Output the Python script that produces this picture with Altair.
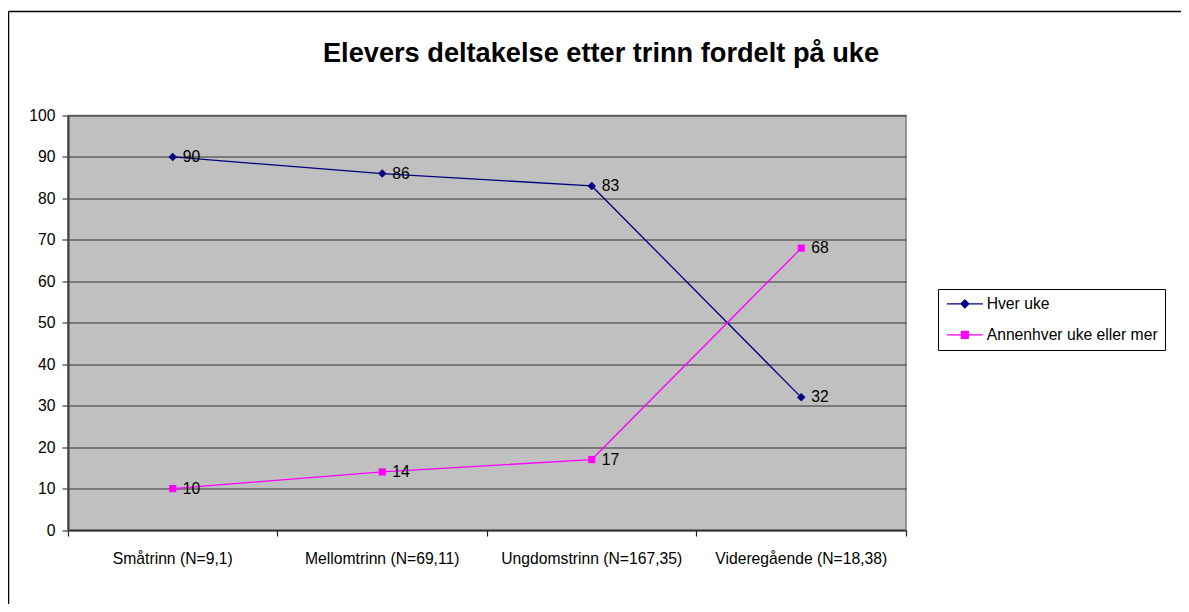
import altair as alt
import pandas as pd

categories = ["Småtrinn (N=9,1)", "Mellomtrinn (N=69,11)", "Ungdomstrinn (N=167,35)", "Videregående (N=18,38)"]
series_names = ["Hver uke", "Annenhver uke eller mer"]
hver_uke = [90, 86, 83, 32]
annenhver = [10, 14, 17, 68]
y_ticks = [0, 10, 20, 30, 40, 50, 60, 70, 80, 90, 100]
title_text = "Elevers deltakelse etter trinn fordelt på uke"

colors = ["#000080", "#FF00FF"]
marker_paths = ["M0,-1L1,0L0,1L-1,0Z", "M-0.85,-0.85H0.85V0.85H-0.85Z"]
legend_paths = ["M-1,0H5M2,-0.67L2.67,0L2,0.67L1.33,0Z", "M-1,0H5M1.42,-0.58H2.58V0.58H1.42Z"]

rows = []
for cat, v in zip(categories, hver_uke):
    rows.append({"trinn": cat, "serie": series_names[0], "verdi": v})
for cat, v in zip(categories, annenhver):
    rows.append({"trinn": cat, "serie": series_names[1], "verdi": v})
df = pd.DataFrame(rows)

FONT = "Liberation Sans"
W, H = 838, 414.5

xscale = alt.Scale(type="band", domain=categories, paddingInner=0, paddingOuter=0)
yscale = alt.Scale(domain=[0, 100], nice=False)

x_enc = alt.X("trinn:N", scale=xscale, bandPosition=0.5, sort=categories,
              axis=alt.Axis(title=None, labelAngle=0, labelFont=FONT, labelFontSize=15.7,
                            labelColor="black", labelPadding=15, labelLimit=0, bandPosition=1,
                            tickExtra=True, tickSize=6, tickColor="#202020", tickWidth=1.2,
                            domainColor="#303030", domainWidth=1.5, grid=False))
y_enc = alt.Y("verdi:Q", scale=yscale,
              axis=alt.Axis(title=None, values=y_ticks, grid=True, gridColor="#333333",
                            gridWidth=1, labelFont=FONT, labelFontSize=15.7, labelColor="black",
                            labelPadding=7, tickSize=6, tickColor="#404040", tickWidth=1.2,
                            domainColor="#404040", domainWidth=2))

base = alt.Chart(df)

lines = base.mark_line(strokeWidth=1.3).encode(
    x=x_enc, y=y_enc,
    stroke=alt.Stroke("serie:N", scale=alt.Scale(domain=series_names, range=colors), legend=None),
    detail="serie:N",
)

points = base.mark_point(filled=True, size=72, opacity=1).encode(
    x=x_enc, y=y_enc,
    fill=alt.Fill("serie:N", scale=alt.Scale(domain=series_names, range=colors), legend=None),
    shape=alt.Shape("serie:N", scale=alt.Scale(domain=series_names, range=marker_paths), legend=None),
)

labels = base.mark_text(align="left", baseline="middle", dx=10, font=FONT, fontSize=15.7,
                        color="black").encode(x=x_enc, y=y_enc, text="verdi:Q")

legend_layer = base.transform_filter("false").mark_point(filled=True, size=144, opacity=1,
                                                           strokeWidth=1.2).encode(
    x=x_enc, y=y_enc,
    fill=alt.Fill("serie:N", scale=alt.Scale(domain=series_names, range=colors),
                  legend=alt.Legend(title=None, orient="none", legendX=870, legendY=173.5,
                                    strokeColor="black", fillColor="white", padding=7,
                                    labelFont=FONT, labelFontSize=15.7, labelColor="black",
                                    labelOffset=26, labelLimit=0, symbolSize=144,
                                    symbolStrokeWidth=1.2, rowPadding=14)),
    stroke=alt.Stroke("serie:N", scale=alt.Scale(domain=series_names, range=colors)),
    shape=alt.Shape("serie:N", scale=alt.Scale(domain=series_names, range=legend_paths)),
)

one = pd.DataFrame({"t": [title_text]})
title = alt.Chart(one).mark_text(align="center", baseline="alphabetic", font=FONT,
                                  fontSize=27.2, fontWeight="bold", color="black").encode(
    x=alt.value(533), y=alt.value(-53.8), text="t:N")

border_top = alt.Chart(one).mark_rule(color="black", strokeWidth=1.5).encode(
    x=alt.value(-59.5), x2=alt.value(1300), y=alt.value(-104))
border_left = alt.Chart(one).mark_rule(color="black", strokeWidth=1.5).encode(
    x=alt.value(-59.5), y=alt.value(-104), y2=alt.value(700))

chart = alt.layer(lines, points, labels, legend_layer, title, border_top, border_left).resolve_scale(
    fill="independent", stroke="independent", shape="independent"
).resolve_legend(fill="independent", stroke="independent", shape="independent").properties(
    width=W, height=H,
    background="white",
    autosize=alt.AutoSizeParams(type="none"),
    padding={"left": 60, "top": 107.5, "right": 275, "bottom": 74},
).configure_view(fill="#C0C0C0", stroke="#808080", strokeWidth=1.5)

chart.save("out.html", embed_options={"renderer": "svg", "actions": False})
